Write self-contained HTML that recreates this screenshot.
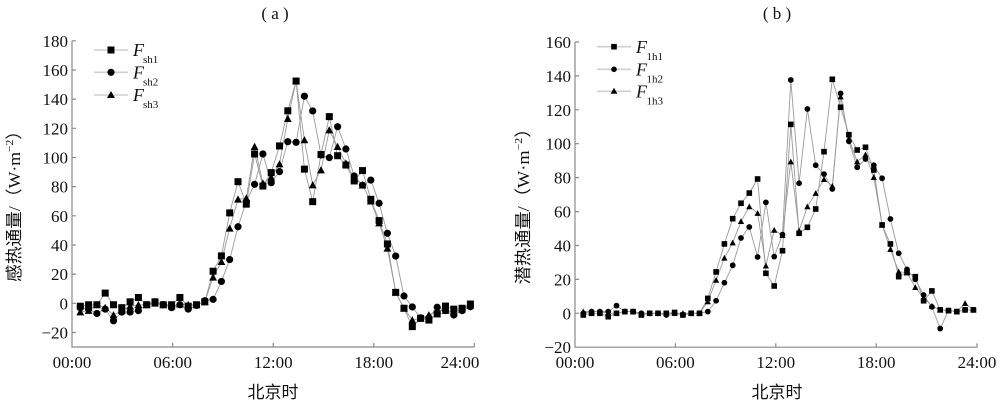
<!DOCTYPE html>
<html><head><meta charset="utf-8">
<style>
html,body{margin:0;padding:0;background:#fff;}
svg{display:block;}
text{font-family:"Liberation Serif","Noto Serif CJK SC",serif;fill:#111;}
.cjk{font-family:"Liberation Serif","Noto Sans CJK SC",sans-serif;}
.tk, .tk text{font-size:17px;font-family:"Liberation Serif",serif;}
</style></head>
<body>
<svg id="s" width="1000" height="405" viewBox="0 0 1000 405" xmlns="http://www.w3.org/2000/svg">
<rect width="1000" height="405" fill="#fff"/>
<text x="275" y="19" font-size="17" text-anchor="middle" xml:space="preserve" font-family="Liberation Serif, serif">( a )</text>
<text x="777" y="19" font-size="17" text-anchor="middle" xml:space="preserve" font-family="Liberation Serif, serif">( b )</text>

<g stroke="#8a8a8a" stroke-width="1.2" fill="none">
<path d="M72 40.8 V347 H474.5"/>
<path d="M72 40.8h4 M72 70h4 M72 99.1h4 M72 128.3h4 M72 157.5h4 M72 186.6h4 M72 215.8h4 M72 245h4 M72 274.1h4 M72 303.3h4 M72 332.5h4"/>
<path d="M172.7 347v-4 M273.3 347v-4 M373.8 347v-4 M474.3 347v-4"/>
</g>
<g class="tk" text-anchor="end" font-family="Liberation Serif, serif">
<text x="68" y="46.8">180</text><text x="68" y="76">160</text><text x="68" y="105.1">140</text>
<text x="68" y="134.3">120</text><text x="68" y="163.5">100</text><text x="68" y="192.6">80</text>
<text x="68" y="221.8">60</text><text x="68" y="251">40</text><text x="68" y="280.1">20</text>
<text x="68" y="309.3">0</text><text x="68" y="338.5">−20</text>
</g>
<g class="tk" text-anchor="middle" font-family="Liberation Serif, serif">
<text x="72" y="368">00:00</text><text x="172.7" y="368">06:00</text><text x="273.3" y="368">12:00</text>
<text x="373.8" y="368">18:00</text><text x="460" y="368">24:00</text>
</g>
<text x="273" y="398" font-size="17" text-anchor="middle" class="cjk">北京时</text>
<text transform="translate(20,202) rotate(-90)" font-size="17" text-anchor="middle" class="cjk" textLength="160" lengthAdjust="spacingAndGlyphs">感热通量/（W·m<tspan font-size="11" dy="-7">−2</tspan><tspan dy="7">）</tspan></text>

<g stroke="#8a8a8a" stroke-width="1.2" fill="none">
<path d="M575 42 V347.2 H977.5"/>
<path d="M575 42h4 M575 75.9h4 M575 109.8h4 M575 143.7h4 M575 177.6h4 M575 211.6h4 M575 245.5h4 M575 279.4h4 M575 313.3h4"/>
<path d="M675.4 347.2v-4 M775.8 347.2v-4 M876.2 347.2v-4 M977 347.2v-4"/>
</g>
<g class="tk" text-anchor="end" font-family="Liberation Serif, serif">
<text x="571" y="48">160</text><text x="571" y="81.9">140</text><text x="571" y="115.8">120</text>
<text x="571" y="149.7">100</text><text x="571" y="183.6">80</text><text x="571" y="217.6">60</text>
<text x="571" y="251.5">40</text><text x="571" y="285.4">20</text><text x="571" y="319.3">0</text>
<text x="571" y="353.2">−20</text>
</g>
<g class="tk" text-anchor="middle" font-family="Liberation Serif, serif">
<text x="575" y="368">00:00</text><text x="675.4" y="368">06:00</text><text x="775.8" y="368">12:00</text>
<text x="876.2" y="368">18:00</text><text x="977" y="368">24:00</text>
</g>
<text x="777" y="398" font-size="17" text-anchor="middle" class="cjk">北京时</text>
<text transform="translate(529,202) rotate(-90)" font-size="17" text-anchor="middle" class="cjk" textLength="165" lengthAdjust="spacingAndGlyphs">潜热通量/（W·m<tspan font-size="11" dy="-7">−2</tspan><tspan dy="7">）</tspan></text>

<g stroke="#cfcfcf" stroke-width="1.6">
<path d="M94 50H128 M94 72.3H128 M94 95H128"/>
<path d="M597 46.7H631 M597 69.3H631 M597 91.3H631"/>
</g>
<g fill="#000">
<rect x="107.5" y="46.5" width="7" height="7"/>
<circle cx="111" cy="72.3" r="3.6"/>
<polygon points="111,91 115,98 107,98"/>
<rect x="611.2" y="43.9" width="5.6" height="5.6"/>
<circle cx="614" cy="69.3" r="2.8"/>
<polygon points="614,87.8 617.4,93.8 610.6,93.8"/>
</g>
<g font-family="Liberation Serif, serif">
<text x="133" y="56" font-size="18" font-style="italic">F</text><text x="143" y="63" font-size="11">sh1</text>
<text x="133" y="78.5" font-size="18" font-style="italic">F</text><text x="143" y="85.5" font-size="11">sh2</text>
<text x="133" y="101" font-size="18" font-style="italic">F</text><text x="143" y="108" font-size="11">sh3</text>
<text x="636" y="53" font-size="18" font-style="italic">F</text><text x="646.5" y="60" font-size="11">1h1</text>
<text x="636" y="75.5" font-size="18" font-style="italic">F</text><text x="646.5" y="82.5" font-size="11">1h2</text>
<text x="636" y="97.5" font-size="18" font-style="italic">F</text><text x="646.5" y="104.5" font-size="11">1h3</text>
</g>
<g id="series"></g>
</svg>
<script>
(function(){
var NS="http://www.w3.org/2000/svg";
var g=document.getElementById("series");
function el(n,a){var e=document.createElementNS(NS,n);for(var k in a)e.setAttribute(k,a[k]);g.appendChild(e);return e;}
var A={x0:72,dx:8.3,y0:303.3,sy:1.4583,ms:1,
 s:[-2,-1,-1,7,-1,-3,1,4,-1,1,-1,-1,4,-2,-1,1,22,32.5,62,83.4,68,102.4,80.4,89.6,107.9,132,152.4,92,69.7,102,128,101.2,94.8,83.9,91,71.3,56.7,40.7,7.5,-3.4,-16,-10.3,-11.5,-7.3,-1.9,-4,-3.4,-0.5],
 c:[-3,-4,-7,-4,-12,-6,-6,-5,-1,1,-1,-3,-1,-4,-1.5,1.8,2.7,15,30,52.5,69.7,81.6,102.4,82.7,90.3,110.8,110.4,142,131.9,101.7,99.9,121.1,105.8,87.3,81,84.5,68.6,48,32.4,5,-2.5,-10,-10,-2.7,-5,-8,-5,-2.3],
 t:[-6,-5,-1,-3,-8,-5,-2,-1,-1,0,-1,-2,-0.7,-1,-1,1,17.8,28.5,51.4,71.3,72,107.4,82.3,86.4,95.5,126.6,152.4,112,81.1,91.4,118.8,107.4,96,86,81,70,55,37.7,7.5,-3.4,-11.5,-10.3,-8,-5,-5,-6,-4,-1.5]};
var B={x0:575,dx:8.3,y0:313.3,sy:1.6958,ms:0.8,
 s:[-1,0,0,-2,0,1,1,-1,0,0,0,0.5,-1,0,0,8.8,24.4,40.9,55.8,64.9,70.9,79.2,23.6,16.1,36.9,111.4,47.2,50.7,61.5,95.3,138,121.5,105.3,96.3,97.9,84.5,52.1,40.9,21.6,24,21.6,7.4,13.2,2,1.6,1,2,2],
 c:[0,1,1,1,4.5,1,1,0,0,0,-1,0,-1,0,0,1,7.4,18,28.3,44.4,50.9,33.2,65.4,33.4,46.4,137.6,76.7,120.5,87.3,82.1,73.3,129.7,101.4,86.1,91,87.3,79.6,55.6,35.4,25.9,20,10.8,3.8,-9,1.6,1,2,2],
 t:[1,1,1,0,0,1,1,0,0,0,0,0,0,0,0,6.9,19.6,32.6,41.6,54.2,62.9,59,28,49.1,46,89.4,48.7,62.9,70.8,79,75,127.7,103,89.4,93.6,80.2,52.1,37.7,24.5,24,15.3,9,4.3,2,1.6,1,5.9,2]};
function pts(C,arr){var p=[];for(var i=0;i<arr.length;i++){p.push([C.x0+C.dx*(i+1),C.y0-C.sy*arr[i]]);}return p;}
[A,B].forEach(function(C){
 ["s","c","t"].forEach(function(k){
  var p=pts(C,C[k]);
  el("polyline",{points:p.map(function(q){return q[0].toFixed(1)+","+q[1].toFixed(1)}).join(" "),fill:"none",stroke:"#9a9a9a","stroke-width":"0.9"});
 });
});
[A,B].forEach(function(C){
 var m=C.ms;
 pts(C,C.t).forEach(function(q){var h=3.9*m;el("polygon",{points:q[0]+","+(q[1]-h)+" "+(q[0]+h)+","+(q[1]+h*0.85)+" "+(q[0]-h)+","+(q[1]+h*0.85),fill:"#000"});});
 pts(C,C.c).forEach(function(q){el("circle",{cx:q[0],cy:q[1],r:3.6*m,fill:"#000"});});
 pts(C,C.s).forEach(function(q){var h=3.5*m;el("rect",{x:q[0]-h,y:q[1]-h,width:2*h,height:2*h,fill:"#000"});});
});
})();
</script>
</body></html>
